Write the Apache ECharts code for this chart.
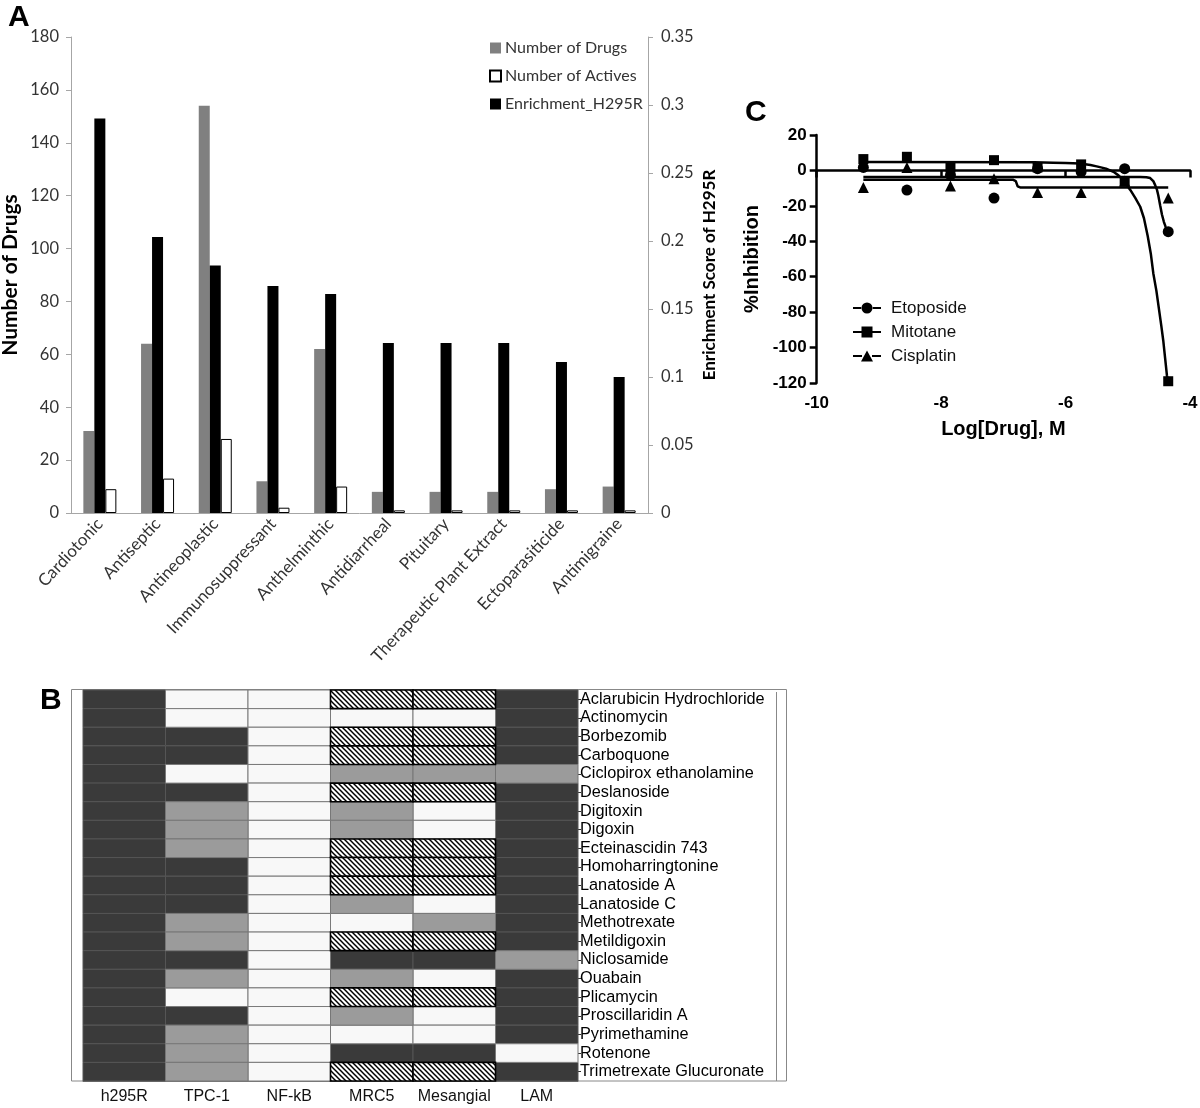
<!DOCTYPE html>
<html><head><meta charset="utf-8">
<script src="https://cdn.jsdelivr.net/npm/echarts/dist/echarts.min.js"></script>
<style>html,body{margin:0;padding:0;background:#fff}#c{width:1200px;height:1108px}</style>
</head><body><div id="c"></div>
<script>
// ---------- Panel A ----------
const categories = ['Cardiotonic','Antiseptic','Antineoplastic','Immunosuppressant','Anthelminthic','Antidiarrheal','Pituitary','Therapeutic Plant Extract','Ectoparasiticide','Antimigraine'];
const numberOfDrugs   = [31, 64, 154, 12, 62, 8, 8, 8, 9, 10];
const numberOfActives = [9, 13, 28, 2, 10, 1, 1, 1, 1, 1];
const enrichmentH295R = [0.29, 0.203, 0.182, 0.167, 0.161, 0.125, 0.125, 0.125, 0.111, 0.1];

// ---------- Panel B ----------
const cellLines = ['h295R','TPC-1','NF-kB','MRC5','Mesangial','LAM'];
const drugs = ['Aclarubicin Hydrochloride','Actinomycin','Borbezomib','Carboquone','Ciclopirox ethanolamine','Deslanoside','Digitoxin','Digoxin','Ecteinascidin 743','Homoharringtonine','Lanatoside A','Lanatoside C','Methotrexate','Metildigoxin','Niclosamide','Ouabain','Plicamycin','Proscillaridin A','Pyrimethamine','Rotenone','Trimetrexate Glucuronate'];
// D = dark, G = gray, W = white, H = hatched ; columns follow cellLines
const activity = ['DWWHHD','DWWWWD','DDWHHD','DDWHHD','DWWGGG','DDWHHD','DGWGWD','DGWGWD','DGWHHD','DDWHHD','DDWHHD','DDWGWD','DGWWGD','DGWHHD','DDWDDG','DGWGWD','DWWHHD','DDWGWD','DGWWWD','DGWDDW','DGWHHD'];

// ---------- Panel C ----------
const logConc   = [-9.25, -8.55, -7.85, -7.15, -6.45, -5.75, -5.05, -4.35];
const etoposide = [1.7, -11.1, -2.6, -15.6, 1.0, -0.8, 1.0, -34.6];
const mitotane  = [6.4, 7.7, 1.7, 5.8, 1.7, 3.4, -6.4, -119];
const cisplatin = [-9.6, 1.7, -8.8, -4.7, -12.4, -12.4, -6.0, -15.6];
const etoposideFit = [[-9.25,-3.7],[-4.8,-3.7],[-4.7,-3.8],[-4.64,-4.3],[-4.59,-6],[-4.56,-8.3],[-4.53,-11],[-4.51,-14],[-4.48,-19.6],[-4.45,-25],[-4.42,-29],[-4.39,-32],[-4.36,-34.6]];
const mitotaneFit  = [[-9.25,4.7],[-6.5,4.6],[-6.2,4.4],[-6.0,4.2],[-5.77,3.9],[-5.6,3.1],[-5.5,2.3],[-5.35,1.0],[-5.23,-0.8],[-5.15,-2.8],[-5.07,-5.5],[-4.96,-11],[-4.88,-15.5],[-4.8,-20.5],[-4.74,-27],[-4.68,-37],[-4.63,-47],[-4.59,-58],[-4.54,-68],[-4.5,-78],[-4.46,-88],[-4.43,-96],[-4.4,-106],[-4.37,-116],[-4.35,-119]];
const cisplatinFit = [[-9.25,-5.3],[-6.84,-5.3],[-6.8,-6.0],[-6.77,-9.0],[-6.73,-9.6],[-4.35,-9.6]];

// hatch pattern
function makeHatch(){
  const cv = document.createElement('canvas'); cv.width = 5; cv.height = 5;
  const g = cv.getContext('2d');
  g.fillStyle = '#fff'; g.fillRect(0,0,5,5);
  g.strokeStyle = '#000'; g.lineWidth = 1.5;
  [-5,0,5].forEach(o => { g.beginPath(); g.moveTo(o-1,-1); g.lineTo(o+6,6); g.stroke(); });
  return cv;
}
const hatchFill = {image: makeHatch(), repeat: 'repeat'};
const codeMap = {W:0, G:1, D:2, H:3};
const heatData = [];
activity.forEach((row, r) => row.split('').forEach((ch, c) => heatData.push([c, r, codeMap[ch]])));
heatData.sort((a,b) => (a[2]===3) - (b[2]===3));

const fA = 'Lato, "Open Sans", sans-serif';
const fC = '"Liberation Sans", Arial, sans-serif';
const axisGray = '#a6a6a6';

const pathCircle = 'path://M0,4.5h9v2h-9z M19,4.5h9v2h-9z M8.5,5.5a5.5,5.5 0 1,0 11,0a5.5,5.5 0 1,0 -11,0z';
const pathSquare = 'path://M0,4.5h9v2h-9z M19,4.5h9v2h-9z M8.5,0h11v11h-11z';
const pathTri    = 'path://M0,4.5h9v2h-9z M19,4.5h9v2h-9z M14,0L20,11L8,11z';

const chart = echarts.init(document.getElementById('c'), null, {renderer:'canvas'});
chart.setOption({
  animation: false,
  backgroundColor: '#fff',
  grid: [
    {left: 71, top: 37, width: 577, height: 476, outerBoundsMode: 'none'},
    {left: 816.7, top: 135, width: 373.3, height: 248, outerBoundsMode: 'none'},
    {left: 83, top: 690, width: 495, height: 391, outerBoundsMode: 'none'}
  ],
  legend: [
    {
      data: ['Number of Drugs','Number of Actives','Enrichment_H295R'],
      orient: 'vertical', left: 484, top: 35, itemWidth: 11, itemHeight: 11, itemGap: 12,
      icon: 'rect', selectedMode: false,
      textStyle: {fontFamily: fA, fontSize: 16, color: '#333', lineHeight: 14, padding: [0,0,0,-1]}
    },
    {
      data: [{name:'Etoposide', icon: pathCircle},{name:'Mitotane', icon: pathSquare},{name:'Cisplatin', icon: pathTri}],
      orient: 'vertical', left: 848, top: 294, itemWidth: 28, itemHeight: 11, itemGap: 6, selectedMode: false,
      textStyle: {fontFamily: fC, fontSize: 17, color: '#111', lineHeight: 18, padding: [0,0,0,5]}
    }
  ],
  xAxis: [
    {
      gridIndex: 0, type: 'category', data: categories,
      axisLine: {lineStyle: {color: axisGray}},
      axisTick: {length: 6, lineStyle: {color: axisGray}},
      axisLabel: {rotate: 47, fontFamily: fA, fontSize: 17, color: '#333', margin: 8, interval: 0}
    },
    {
      gridIndex: 1, type: 'value', min: -10, max: -4, interval: 2,
      name: 'Log[Drug], M', nameLocation: 'middle', nameGap: 36,
      nameTextStyle: {fontFamily: fC, fontWeight: 'bold', fontSize: 20, color: '#000'},
      axisLine: {lineStyle: {color: '#000', width: 2.5}},
      axisTick: {length: 7, lineStyle: {color: '#000', width: 2.5}},
      axisLabel: {fontFamily: fC, fontWeight: 'bold', fontSize: 17, color: '#000', margin: 12},
      splitLine: {show: false}
    },
    {
      gridIndex: 2, type: 'category', data: cellLines,
      axisLine: {lineStyle: {color: '#777'}},
      axisTick: {alignWithLabel: true, length: 5, lineStyle: {color: '#444'}},
      axisLabel: {fontFamily: fC, fontSize: 16, color: '#111', margin: 8, interval: 0}
    }
  ],
  yAxis: [
    {
      gridIndex: 0, type: 'value', min: 0, max: 180, interval: 20,
      name: 'Number of Drugs', nameLocation: 'middle', nameGap: 50,
      nameTextStyle: {fontFamily: fA, fontWeight: 'bold', fontSize: 21, color: '#000'},
      axisLine: {show: true, lineStyle: {color: axisGray}},
      axisTick: {show: true, length: 5, lineStyle: {color: axisGray}},
      axisLabel: {fontFamily: fA, fontSize: 16.5, color: '#333', margin: 12},
      splitLine: {show: false}
    },
    {
      gridIndex: 0, type: 'value', min: 0, max: 0.35, interval: 0.05, position: 'right',
      name: 'Enrichment Score of H295R', nameLocation: 'middle', nameGap: 53,
      nameTextStyle: {fontFamily: fA, fontWeight: 'bold', fontSize: 17, color: '#000'},
      axisLine: {show: true, lineStyle: {color: axisGray}},
      axisTick: {show: true, length: 5, lineStyle: {color: axisGray}},
      axisLabel: {fontFamily: fA, fontSize: 16.5, color: '#333', margin: 13},
      splitLine: {show: false}
    },
    {
      gridIndex: 1, type: 'value', min: -120, max: 20, interval: 20,
      name: '%Inhibition', nameLocation: 'middle', nameGap: 54,
      nameTextStyle: {fontFamily: fC, fontWeight: 'bold', fontSize: 20, color: '#000'},
      axisLine: {show: true, lineStyle: {color: '#000', width: 2.5}},
      axisTick: {show: true, length: 7, lineStyle: {color: '#000', width: 2.5}},
      axisLabel: {fontFamily: fC, fontWeight: 'bold', fontSize: 17, color: '#000', margin: 10},
      splitLine: {show: false}
    },
    {
      gridIndex: 2, type: 'category', data: drugs, inverse: true, position: 'right',
      axisLine: {show: false},
      axisTick: {show: true, alignWithLabel: true, length: 3, lineStyle: {color: '#333'}},
      axisLabel: {fontFamily: fC, fontSize: 16.3, color: '#000', margin: 2, interval: 0}
    }
  ],
  series: [
    {name: 'Number of Drugs', type: 'bar', xAxisIndex: 0, yAxisIndex: 0, data: numberOfDrugs,
     barWidth: 11, barGap: '0%', itemStyle: {color: '#808080'}},
    {name: 'Enrichment_H295R', type: 'bar', xAxisIndex: 0, yAxisIndex: 1, data: enrichmentH295R,
     barWidth: 11, barGap: '0%', itemStyle: {color: '#000'}},
    {name: 'Number of Actives', type: 'bar', xAxisIndex: 0, yAxisIndex: 0, data: numberOfActives,
     barWidth: 11, barGap: '0%', itemStyle: {color: '#fff', borderColor: '#000', borderWidth: 1}},

    {name: 'Etoposide fit', type: 'line', xAxisIndex: 1, yAxisIndex: 2, data: etoposideFit, showSymbol: false, symbol: 'none', smooth: false,
     lineStyle: {color: '#000', width: 2.5}, z: 2},
    {name: 'Mitotane fit', type: 'line', xAxisIndex: 1, yAxisIndex: 2, data: mitotaneFit, showSymbol: false, symbol: 'none', smooth: false,
     lineStyle: {color: '#000', width: 2.5}, z: 2},
    {name: 'Cisplatin fit', type: 'line', xAxisIndex: 1, yAxisIndex: 2, data: cisplatinFit, showSymbol: false, symbol: 'none', smooth: false,
     lineStyle: {color: '#000', width: 2.5}, z: 2},
    {name: 'Etoposide', type: 'scatter', xAxisIndex: 1, yAxisIndex: 2, symbol: 'circle', symbolSize: 11,
     data: logConc.map((x,i) => [x, etoposide[i]]), itemStyle: {color: '#000', opacity: 1}, z: 3},
    {name: 'Mitotane', type: 'scatter', xAxisIndex: 1, yAxisIndex: 2, symbol: 'rect', symbolSize: 10,
     data: logConc.map((x,i) => [x, mitotane[i]]), itemStyle: {color: '#000', opacity: 1}, z: 3},
    {name: 'Cisplatin', type: 'scatter', xAxisIndex: 1, yAxisIndex: 2, symbol: 'triangle', symbolSize: 11,
     data: logConc.map((x,i) => [x, cisplatin[i]]), itemStyle: {color: '#000', opacity: 1}, z: 3},

    {name: 'Activity', type: 'custom', xAxisIndex: 2, yAxisIndex: 3, data: heatData,
     renderItem: function(params, api){
       const code = api.value(2);
       const c = api.coord([api.value(0), api.value(1)]);
       const s = api.size([1, 1]);
       let style, z2 = 0;
       if (code === 3) { style = {fill: hatchFill, stroke: '#000', lineWidth: 1.6}; z2 = 10; }
       else if (code === 2) { style = {fill: '#3a3a3a', stroke: '#555', lineWidth: 1}; }
       else if (code === 1) { style = {fill: '#9b9b9b', stroke: '#777', lineWidth: 1}; z2 = 2; }
       else { style = {fill: '#f8f8f8', stroke: '#7a7a7a', lineWidth: 1}; z2 = 1; }
       return {type: 'rect', z2: z2,
         shape: {x: c[0] - s[0]/2, y: c[1] - s[1]/2, width: s[0], height: s[1]},
         style: style};
     }}
  ],
  graphic: [
    {type: 'text', left: 8, top: 3, style: {text: 'A', font: 'bold 30px "Liberation Sans", Arial', fill: '#000'}},
    {type: 'text', left: 40, top: 686, style: {text: 'B', font: 'bold 30px "Liberation Sans", Arial', fill: '#000'}},
    {type: 'text', left: 745, top: 98, style: {text: 'C', font: 'bold 30px "Liberation Sans", Arial', fill: '#000'}},
    {type: 'rect', shape: {x: 71.5, y: 689.5, width: 715, height: 391.5}, style: {fill: 'none', stroke: '#888', lineWidth: 1}, z: -1},
    {type: 'line', shape: {x1: 776.5, y1: 692, x2: 776.5, y2: 1081}, style: {stroke: '#888', lineWidth: 1}}
  ]
});
</script>
</body></html>
